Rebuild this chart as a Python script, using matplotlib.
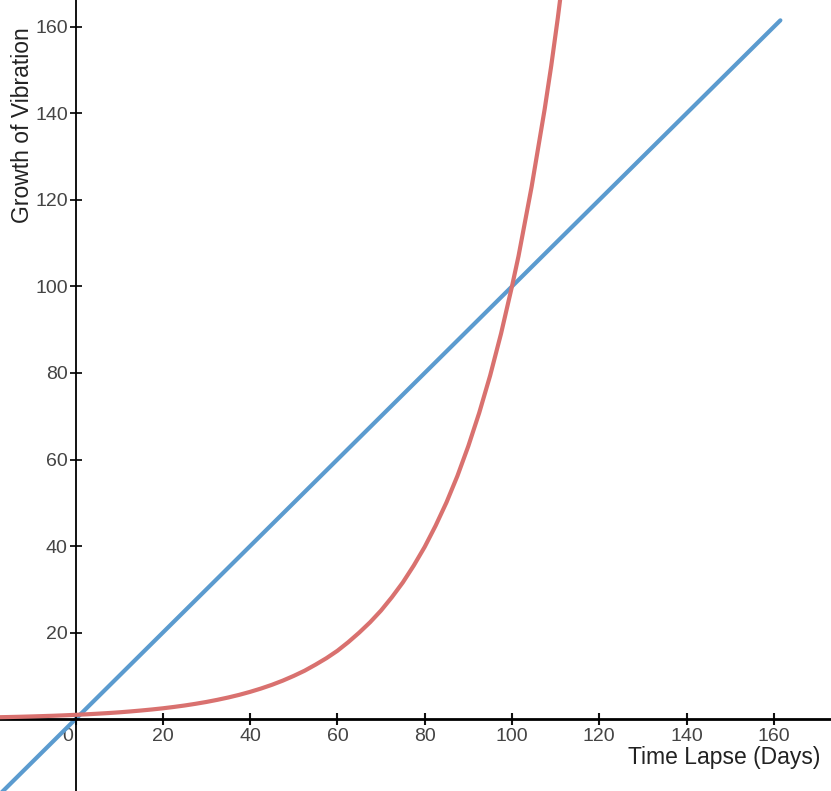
import matplotlib
matplotlib.use('Agg')
import matplotlib.pyplot as plt
import matplotlib.transforms as mtransforms

plt.rcParams['font.family'] = ['Liberation Sans', 'DejaVu Sans']

# values
days = [-20, -17.5, -15, -12.5, -10, -7.5, -5, -2.5, 0, 2.5, 5, 7.5, 10, 12.5,
        15, 17.5, 20, 22.5, 25, 27.5, 30, 32.5, 35, 37.5, 40, 42.5, 45, 47.5,
        50, 52.5, 55, 57.5, 60, 62.5, 65, 67.5, 70, 72.5, 75, 77.5, 80, 82.5,
        85, 87.5, 90, 92.5, 95, 97.5, 100, 101.5, 103, 104.5, 106, 107.5, 109,
        110.5, 112, 113.5, 115]
vibration = [0.40, 0.45, 0.50, 0.56, 0.63, 0.71, 0.79, 0.89, 1.0, 1.12, 1.26,
             1.41, 1.58, 1.78, 2.0, 2.24, 2.51, 2.82, 3.16, 3.55, 3.98, 4.47,
             5.01, 5.62, 6.31, 7.08, 7.94, 8.91, 10.0, 11.2, 12.6, 14.1, 15.8,
             17.8, 20.0, 22.4, 25.1, 28.2, 31.6, 35.5, 39.8, 44.7, 50.1, 56.2,
             63.1, 70.8, 79.4, 89.1, 100, 107, 115, 123, 132, 141, 151, 162,
             174, 186, 200]
line_x = [-20, 161.5]
line_y = [-20, 161.5]

xticks = [0, 20, 40, 60, 80, 100, 120, 140, 160]
yticks = [20, 40, 60, 80, 100, 120, 140, 160]

fig = plt.figure(figsize=(8.31, 7.91), dpi=100)
ax = fig.add_axes([0, 0, 1, 1])

ax.plot(days, vibration, color='#d9716f', lw=3.0, solid_capstyle='round', zorder=3)
ax.plot(line_x, line_y, color='#5b9bcf', lw=3.0, solid_capstyle='round', zorder=2)

ax.set_xlim(-17.3, 173.1)
ax.set_ylim(-16.6, 166.2)

for s in ['top', 'right']:
    ax.spines[s].set_visible(False)
ax.spines['left'].set_position(('data', 0))
ax.spines['bottom'].set_position(('data', 0))
ax.spines['bottom'].set_linewidth(2.0)
ax.spines['left'].set_linewidth(1.3)

ax.set_xticks(xticks)
ax.set_xticklabels([str(t) for t in xticks])
ax.set_yticks(yticks)
ax.set_yticklabels([str(t) for t in yticks])
ax.tick_params(axis='x', direction='inout', length=9, width=1.5, labelsize=14,
               colors='#111111', labelcolor='#444444', pad=2)
ax.tick_params(axis='y', direction='inout', length=9, width=1.3, labelsize=14,
               colors='#111111', labelcolor='#444444', pad=1)

# shift the "0" label left of the vertical axis
zero_lbl = ax.get_xticklabels()[0]
zero_lbl.set_transform(zero_lbl.get_transform() +
                       mtransforms.ScaledTranslation(-0.08, 0, fig.dpi_scale_trans))

ax.text(0.987, 0.042, 'Time Lapse (Days)', transform=ax.transAxes, ha='right',
        va='center', fontsize=16.5, color='#222222')
ax.text(0.027, 0.965, 'Growth of Vibration', transform=ax.transAxes, ha='center',
        va='top', rotation=90, fontsize=16.5, color='#222222')

fig.savefig('out.png', dpi=100)
